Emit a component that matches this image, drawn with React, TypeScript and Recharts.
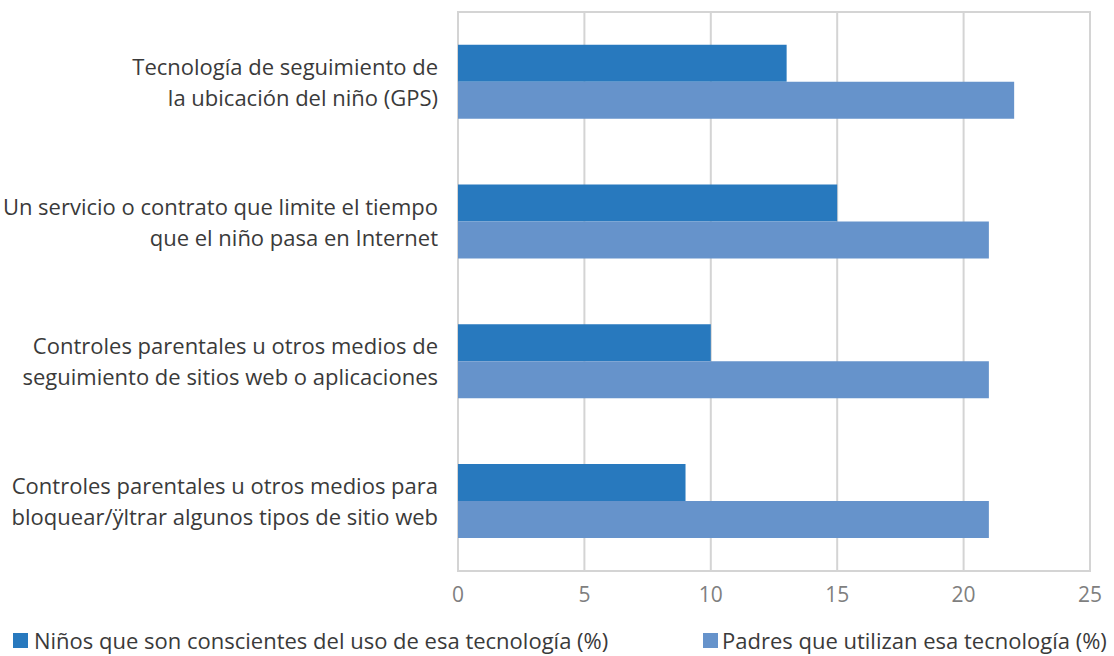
import React from "react";
import {
  BarChart, Bar, XAxis, YAxis, CartesianGrid, ReferenceArea, Legend,
} from "recharts";

const categories = [
  ["Tecnología de seguimiento de", "la ubicación del niño (GPS)"],
  ["Un servicio o contrato que limite el tiempo", "que el niño pasa en Internet"],
  ["Controles parentales u otros medios de", "seguimiento de sitios web o aplicaciones"],
  ["Controles parentales u otros medios para", "bloquear/ÿltrar algunos tipos de sitio web"],
];
const ninos = [13, 15, 10, 9];
const padres = [22, 21, 21, 21];
const xTicks = [0, 5, 10, 15, 20, 25];

const SERIES_NINOS = "Niños que son conscientes del uso de esa tecnología (%)";
const SERIES_PADRES = "Padres que utilizan esa tecnología (%)";

const data = categories.map((lines, i) => ({
  name: lines.join(" "),
  ninos: ninos[i],
  padres: padres[i],
}));

const FONT = "'Open Sans', 'Noto Sans', sans-serif";

const CategoryTick = ({ x, y, payload }: any) => {
  const lines = categories[payload.index] ?? [payload.value];
  return (
    <text x={x - 12} y={y} textAnchor="end" fill="#3a3a3a" fontSize={22} fontFamily={FONT}>
      {lines.map((l: string, i: number) => (
        <tspan key={i} x={x - 12} dy={i === 0 ? -7 : 31}>{l}</tspan>
      ))}
    </text>
  );
};

const LegendContent = () => (
  <div style={{ position: "relative", height: 30, fontFamily: FONT, fontSize: 22, color: "#3a3a3a", lineHeight: "30px" }}>
    <div style={{ position: "absolute", left: 13, top: 0, display: "flex", alignItems: "center" }}>
      <span style={{ width: 15, height: 15, background: "#2879be", marginRight: 6, display: "inline-block" }} />
      {SERIES_NINOS}
    </div>
    <div style={{ position: "absolute", left: 703, top: 0, display: "flex", alignItems: "center" }}>
      <span style={{ width: 15, height: 15, background: "#6693cb", marginRight: 4, display: "inline-block" }} />
      {SERIES_PADRES}
    </div>
  </div>
);

export default function App() {
  return (
    <div style={{ position: "absolute", left: 0, top: 0, background: "#fff" }}>
      <BarChart
        width={1114}
        height={656}
        data={data}
        layout="vertical"
        margin={{ top: 12, right: 24, left: 0, bottom: 11 }}
        barCategoryGap="23.5%"
        barGap={0}
      >
        <CartesianGrid horizontal={false} stroke="#d4d4d4" strokeWidth={2} />
        <ReferenceArea x1={0} x2={25} fill="none" stroke="#d4d4d4" strokeWidth={2} ifOverflow="visible" />
        <XAxis
          type="number"
          domain={[0, 25]}
          ticks={xTicks}
          tickLine={false}
          axisLine={{ stroke: "#d4d4d4", strokeWidth: 2 }}
          tick={{ fill: "#7f7f7f", fontSize: 21, fontFamily: FONT }}
          tickMargin={10}
          height={44}
        />
        <YAxis
          type="category"
          dataKey="name"
          width={458}
          tickLine={false}
          axisLine={false}
          tick={<CategoryTick />}
          interval={0}
        />
        <Legend verticalAlign="bottom" content={<LegendContent />} wrapperStyle={{ left: 0, width: 1114, bottom: 1 }} />
        <Bar dataKey="ninos" name={SERIES_NINOS} fill="#2879be" isAnimationActive={false} />
        <Bar dataKey="padres" name={SERIES_PADRES} fill="#6693cb" isAnimationActive={false} />
      </BarChart>
    </div>
  );
}
